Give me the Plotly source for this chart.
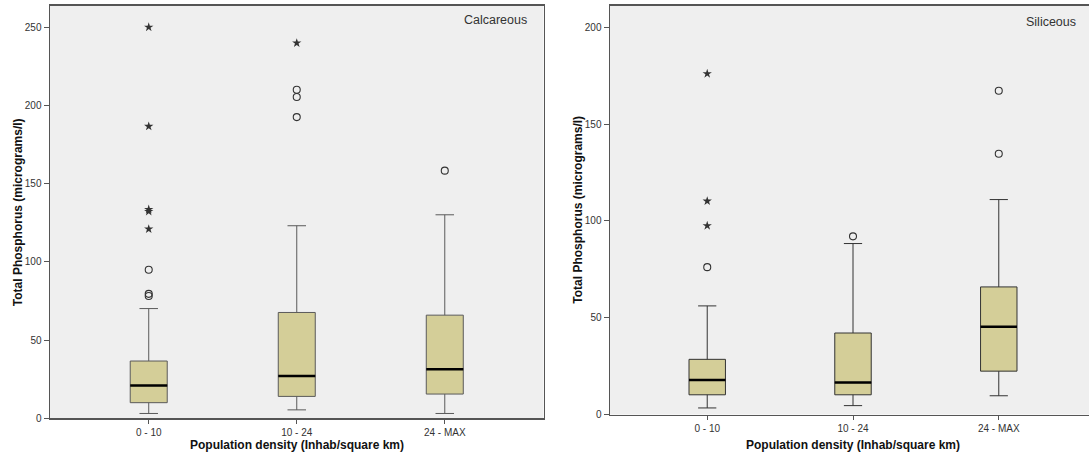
import plotly.graph_objects as go

# ---------------- data ----------------
categories = ["0 - 10", "10 - 24", "24 - MAX"]

# Calcareous panel
calc_lower = [3.2, 5.5, 3.2]
calc_q1 = [10.1, 14.1, 15.6]
calc_median = [21.0, 27.1, 31.5]
calc_q3 = [36.7, 67.7, 66.0]
calc_upper = [70.2, 123.1, 130.1]
calc_circle_cat = ["0 - 10", "0 - 10", "0 - 10", "10 - 24", "10 - 24", "10 - 24", "24 - MAX"]
calc_circle_val = [95.0, 79.6, 78.2, 192.5, 205.3, 210.0, 158.3]
calc_star_cat = ["0 - 10", "0 - 10", "0 - 10", "0 - 10", "0 - 10", "10 - 24"]
calc_star_val = [249.9, 186.6, 133.5, 132.2, 121.0, 239.8]

# Siliceous panel
sil_lower = [3.4, 4.6, 9.7]
sil_q1 = [10.2, 10.2, 22.4]
sil_median = [17.8, 16.5, 45.3]
sil_q3 = [28.5, 42.1, 65.9]
sil_upper = [56.1, 88.3, 111.0]
sil_circle_cat = ["0 - 10", "10 - 24", "24 - MAX", "24 - MAX"]
sil_circle_val = [76.1, 92.0, 134.7, 167.2]
sil_star_cat = ["0 - 10", "0 - 10", "0 - 10"]
sil_star_val = [97.5, 110.2, 176.0]

y_title = "Total Phosphorus (micrograms/l)"
x_title = "Population density (Inhab/square km)"
panel_labels = ["Calcareous", "Siliceous"]

# ---------------- styling ----------------
W, H = 1089, 461
FONT = "Liberation Sans, Arial, sans-serif"
BOX_FILL = "#d4ce98"
BG = "#efefef"
FRAME = "#555555"
BOX_W = 0.25

fig = go.Figure()
idx = {c: i for i, c in enumerate(categories)}
xpos = list(range(len(categories)))


def add_panel(xa, ya, lower, q1, med, q3, upper, ccat, cval, scat, sval, line_col):
    fig.add_trace(go.Box(
        x=xpos, q1=q1, median=med, q3=q3, lowerfence=lower, upperfence=upper,
        width=BOX_W, whiskerwidth=0.5, fillcolor=BOX_FILL,
        line=dict(color=line_col, width=1), boxpoints=False,
        xaxis=xa, yaxis=ya, showlegend=False, hoverinfo="skip"))
    mx, my = [], []
    for i, m in enumerate(med):
        mx += [i - BOX_W / 2, i + BOX_W / 2, None]
        my += [m, m, None]
    fig.add_trace(go.Scatter(x=mx, y=my, mode="lines",
                             line=dict(color="black", width=2.5),
                             xaxis=xa, yaxis=ya, showlegend=False, hoverinfo="skip"))
    fig.add_trace(go.Scatter(x=[idx[c] for c in ccat], y=cval, mode="markers",
                             marker=dict(symbol="circle-open", size=7,
                                         color="#333333", line=dict(width=1.1)),
                             xaxis=xa, yaxis=ya, showlegend=False, hoverinfo="skip"))
    fig.add_trace(go.Scatter(x=[idx[c] for c in scat], y=sval, mode="markers",
                             marker=dict(symbol="star", size=7, color="#333333"),
                             xaxis=xa, yaxis=ya, showlegend=False, hoverinfo="skip"))


add_panel("x", "y", calc_lower, calc_q1, calc_median, calc_q3, calc_upper,
          calc_circle_cat, calc_circle_val, calc_star_cat, calc_star_val, "#5a5a5a")
add_panel("x2", "y2", sil_lower, sil_q1, sil_median, sil_q3, sil_upper,
          sil_circle_cat, sil_circle_val, sil_star_cat, sil_star_val, "#333333")


def px_x(p):
    return p / W


def px_y(p):
    return (H - p) / H


tickfont = dict(family=FONT, size=10, color="#333333")
common_x = dict(tickmode="array", tickvals=xpos, ticktext=categories,
                ticks="outside", ticklen=4, tickcolor=FRAME, tickwidth=1,
                showline=True, linecolor=FRAME, linewidth=1.5,
                showgrid=False, zeroline=False, tickfont=tickfont, fixedrange=True)
common_y = dict(ticks="outside", ticklen=5, tickcolor=FRAME, tickwidth=1,
                showline=True, linecolor=FRAME, linewidth=1.5, dtick=50,
                showgrid=False, zeroline=False, tickfont=tickfont, fixedrange=True)

fig.update_layout(
    width=W, height=H,
    margin=dict(l=0, r=0, t=0, b=0),
    paper_bgcolor="white", plot_bgcolor=BG,
    font=dict(family=FONT, color="#222222"),
    xaxis=dict(domain=[px_x(50), px_x(543.5)], range=[-0.667, 2.667],
               anchor="y", mirror=True, **common_x),
    yaxis=dict(domain=[px_y(424), px_y(6)], range=[0, 263.5],
               anchor="x", mirror=True, **common_y),
    xaxis2=dict(domain=[px_x(610), 1.0], range=[-0.667, 2.619],
                anchor="y2", mirror=True, **common_x),
    yaxis2=dict(domain=[px_y(420), px_y(6)], range=[0, 211],
                anchor="x2", mirror=False, **common_y),
)

title_font = dict(family=FONT, size=12, color="#111111")
ann = [
    dict(text="<b>%s</b>" % y_title, x=px_x(18), y=px_y(215), textangle=-90),
    dict(text="<b>%s</b>" % x_title, x=px_x(296.7), y=px_y(451)),
    dict(text="<b>%s</b>" % y_title, x=px_x(578.5), y=px_y(213), textangle=-90),
    dict(text="<b>%s</b>" % x_title, x=px_x(853), y=px_y(451)),
]
for a in ann:
    fig.add_annotation(xref="paper", yref="paper", showarrow=False,
                       xanchor="center", yanchor="middle", font=title_font, **a)

fig.add_annotation(text=panel_labels[0], xref="paper", yref="paper",
                   x=px_x(529), y=px_y(20.5), xanchor="right", yanchor="middle",
                   showarrow=False, font=dict(family=FONT, size=12.5, color="#333333"))
fig.add_annotation(text=panel_labels[1], xref="paper", yref="paper",
                   x=px_x(1078), y=px_y(22), xanchor="right", yanchor="middle",
                   showarrow=False, font=dict(family=FONT, size=12.5, color="#333333"))

fig.write_html("out.html",
               config={"displayModeBar": False, "staticPlot": True},
               post_script="document.body.style.margin='0';"
                           "document.body.style.overflow='hidden';")
